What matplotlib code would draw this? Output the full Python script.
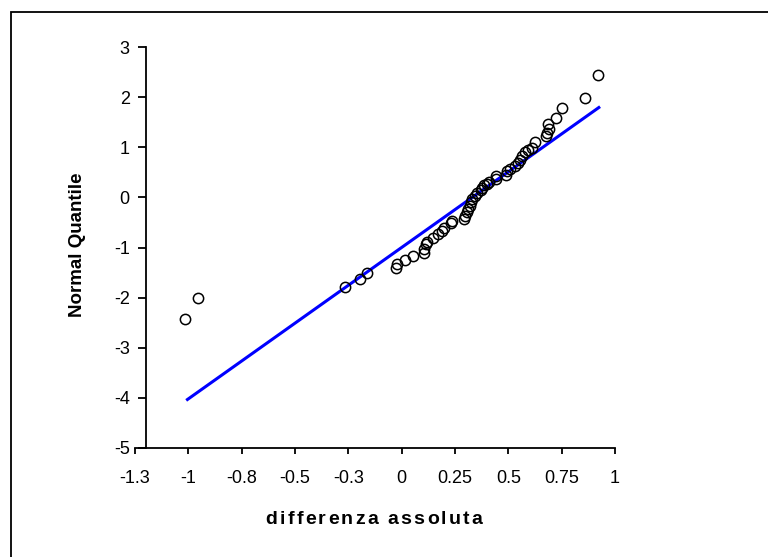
import matplotlib
matplotlib.use("Agg")
import matplotlib.pyplot as plt
from matplotlib.patches import Rectangle

# Data
diff_abs = [-1.016, -0.953, -0.266, -0.195, -0.164, -0.027, -0.020, 0.016, 0.055, 0.105,
            0.105, 0.114, 0.120, 0.148, 0.168, 0.187, 0.198, 0.230, 0.238, 0.292,
            0.296, 0.304, 0.311, 0.319, 0.327, 0.331, 0.343, 0.354, 0.370, 0.377,
            0.385, 0.401, 0.409, 0.440, 0.440, 0.487, 0.496, 0.507, 0.530, 0.546,
            0.554, 0.566, 0.577, 0.593, 0.609, 0.624, 0.676, 0.682, 0.690, 0.687,
            0.723, 0.752, 0.858, 0.920]
normal_q = [-2.43, -2.00, -1.78, -1.63, -1.50, -1.40, -1.32, -1.24, -1.17, -1.11,
            -1.02, -0.94, -0.89, -0.81, -0.73, -0.67, -0.61, -0.51, -0.48, -0.44,
            -0.37, -0.29, -0.24, -0.18, -0.10, -0.03, 0.03, 0.08, 0.14, 0.19,
            0.24, 0.27, 0.31, 0.36, 0.42, 0.45, 0.52, 0.57, 0.62, 0.68,
            0.74, 0.83, 0.90, 0.94, 0.99, 1.11, 1.23, 1.29, 1.37, 1.47,
            1.59, 1.79, 1.99, 2.44]
line_x = [-1.01, 0.93]
line_y = [-4.05, 1.81]

x_ticks = [-1.25, -1.0, -0.75, -0.5, -0.25, 0.0, 0.25, 0.5, 0.75, 1.0]
x_tick_labels = ['-1.3', '-1', '-0.8', '-0.5', '-0.3', '0', '0.25', '0.5', '0.75', '1']
y_ticks = [-5, -4, -3, -2, -1, 0, 1, 2, 3]
x_label = 'differenza assoluta'
y_label = 'Normal Quantile'

plt.rcParams['font.family'] = ['Liberation Sans', 'DejaVu Sans']
plt.rcParams['axes.unicode_minus'] = False

W, H = 768, 557
fig = plt.figure(figsize=(W / 100, H / 100), dpi=100)
fig.patch.set_facecolor('white')

# outer border
fig.patches.append(Rectangle((11 / W, -0.05), 1.1, 1 - 12 / H + 0.05,
                             transform=fig.transFigure, fill=False,
                             edgecolor='black', linewidth=1.3))

ax = fig.add_axes([135 / W, 1 - 448 / H, 480 / W, 401 / H])
ax.set_xlim(-1.25, 1.0)
ax.set_ylim(-5, 3)

ax.plot(line_x, line_y, color='#0000ff', linewidth=2.2, solid_capstyle='butt', zorder=2)
ax.plot(diff_abs, normal_q, linestyle='none', marker='o', markersize=7.4,
        markerfacecolor='none', markeredgecolor='black', markeredgewidth=1.1, zorder=3)

for s in ['top', 'right']:
    ax.spines[s].set_visible(False)
ax.spines['left'].set_position(('data', -1.2))
ax.spines['left'].set_linewidth(1.3)
ax.spines['bottom'].set_linewidth(1.3)

ax.set_xticks(x_ticks)
ax.set_xticklabels(x_tick_labels)
ax.set_yticks(y_ticks)
ax.tick_params(axis='x', direction='out', length=4.5, width=1.3, pad=11, labelsize=13)
ax.tick_params(axis='y', direction='out', length=5.5, width=1.3, pad=6, labelsize=13)

# x label drawn with extra letter spacing (as in the reference)
renderer = fig.canvas.get_renderer()
fs = 14
gap = 2.2  # px between letters
widths = []
for ch in x_label:
    t = fig.text(0, 0, ch if ch != ' ' else 'a', fontsize=fs, fontweight='bold')
    bb = t.get_window_extent(renderer)
    widths.append(bb.width if ch != ' ' else bb.width * 0.5)
    t.remove()
total = sum(widths) + gap * (len(x_label) - 1)
xpos = 374 - total / 2
for ch, w in zip(x_label, widths):
    if ch != ' ':
        fig.text(xpos / W, 1 - 519 / H, ch, ha='left', va='center', fontsize=fs,
                 fontweight='bold')
    xpos += w + gap

fig.text(78 / W, 1 - 245 / H, y_label, ha='center', va='center', rotation=90,
         fontsize=13.5, fontweight='bold')

fig.savefig('out.png', dpi=100, facecolor='white')
